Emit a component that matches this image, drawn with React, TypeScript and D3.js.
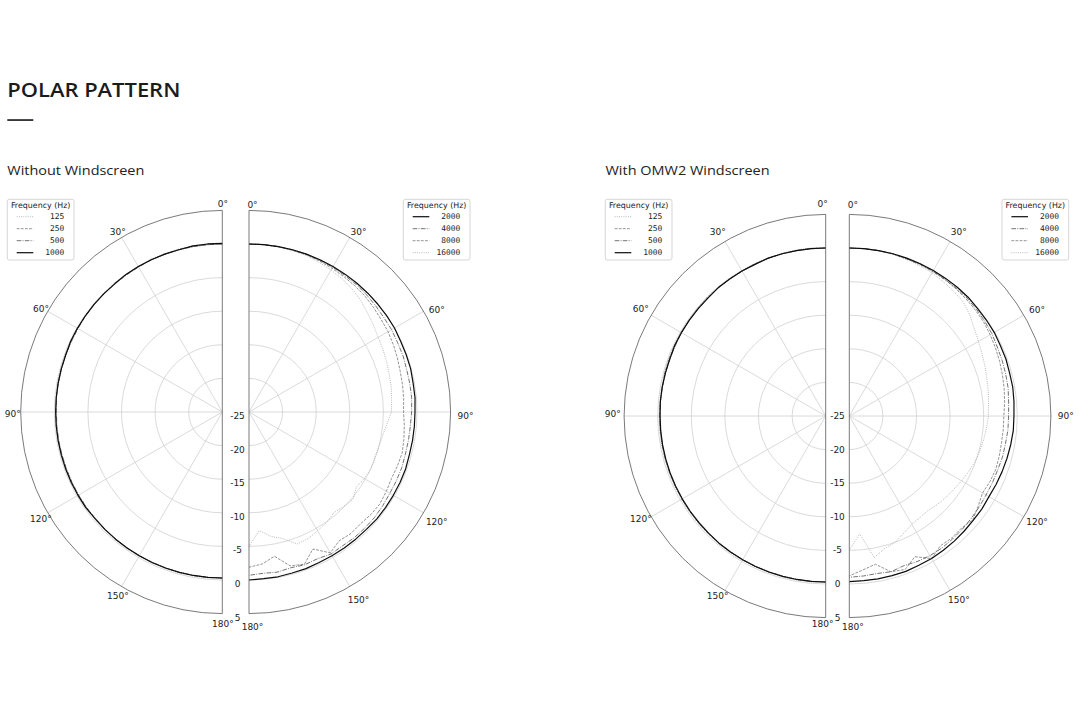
import React from "react";
import * as d3 from "d3";

// ---------- data ----------
const ANGLES = [
  0, 5, 10, 15, 20, 25, 30, 35, 40, 45,
  50, 55, 60, 65, 70, 75, 80, 85, 90, 95,
  100, 105, 110, 115, 120, 125, 130, 135, 140, 145,
  150, 155, 160, 165, 170, 175, 180,
];

const LOW_FREQS = ["125", "250", "500", "1000"];
const HIGH_FREQS = ["2000", "4000", "8000", "16000"];
const RING_DB = [-20, -15, -10, -5, 0];
const RADIAL_TICKS = [-25, -20, -15, -10, -5, 0, 5];
const SPOKES = [30, 60, 90, 120, 150];
const ANGLE_TICKS = [0, 30, 60, 90, 120, 150, 180];
const PANEL_TITLES = ["Without Windscreen", "With OMW2 Windscreen"];

// Without windscreen
const P1_125 = [
  0.1, 0.1, 0.1, 0.1, 0.1, 0.1, 0.0, 0.0, 0.0, 0.0,
  0.0, -0.1, -0.1, -0.1, -0.1, -0.1, -0.1, -0.2, -0.2, -0.2,
  -0.2, -0.2, -0.2, -0.2, -0.2, -0.2, -0.2, -0.2, -0.2, -0.2,
  -0.2, -0.2, -0.2, -0.2, -0.2, -0.2, -0.2,
];
const P1_250 = [
  0.0, 0.0, 0.0, 0.0, 0.0, 0.0, 0.0, -0.1, -0.1, -0.1,
  -0.1, -0.1, -0.1, -0.2, -0.2, -0.2, -0.2, -0.2, -0.2, -0.2,
  -0.2, -0.3, -0.3, -0.3, -0.3, -0.3, -0.3, -0.3, -0.3, -0.3,
  -0.3, -0.3, -0.3, -0.3, -0.3, -0.3, -0.3,
];
const P1_500 = [
  0.0, 0.0, 0.0, 0.0, 0.0, 0.0, -0.1, -0.1, -0.1, -0.1,
  -0.1, -0.1, -0.2, -0.2, -0.2, -0.2, -0.2, -0.2, -0.3, -0.3,
  -0.3, -0.3, -0.3, -0.3, -0.3, -0.3, -0.3, -0.3, -0.3, -0.3,
  -0.3, -0.3, -0.3, -0.3, -0.3, -0.3, -0.3,
];
const P1_1000 = [
  0.1, 0.1, 0.1, 0.0, 0.0, 0.0, 0.0, 0.0, -0.1, -0.1,
  -0.1, -0.1, -0.1, -0.1, -0.2, -0.2, -0.2, -0.2, -0.2, -0.2,
  -0.2, -0.2, -0.2, -0.2, -0.2, -0.2, -0.3, -0.3, -0.3, -0.3,
  -0.3, -0.3, -0.3, -0.3, -0.3, -0.3, -0.3,
];
const P1_2000 = [
  0.0, 0.0, 0.0, 0.0, 0.0, 0.0, 0.0, 0.0, 0.0, 0.0,
  0.0, 0.0, 0.0, -0.1, -0.1, -0.1, -0.2, -0.2, -0.3, -0.3,
  -0.3, -0.3, -0.2, -0.2, -0.2, -0.2, -0.2, -0.3, -0.3, -0.3,
  -0.3, -0.3, -0.2, -0.2, -0.1, -0.1, 0.0,
];
const P1_4000 = [
  0.0, 0.0, 0.0, 0.0, 0.0, -0.1, -0.1, -0.2, -0.2, -0.3,
  -0.4, -0.5, -0.5, -0.6, -0.6, -0.7, -0.7, -0.7, -0.8, -0.9,
  -0.9, -0.9, -0.8, -0.8, -0.8, -0.7, -0.6, -0.6, -0.6, -0.7,
  -0.6, -0.9, -0.8, -1.0, -0.8, -0.9, -0.7,
];
const P1_8000 = [
  0.0, 0.0, 0.0, -0.1, -0.1, -0.2, -0.3, -0.4, -0.5, -0.6,
  -0.8, -1.0, -1.1, -1.3, -1.5, -1.7, -1.8, -1.9, -2.0, -1.8,
  -1.6, -1.4, -1.5, -1.6, -1.4, -1.2, -1.3, -1.5, -1.4, -1.6,
  -0.8, -2.5, -0.9, -1.3, -3.2, -2.3, -1.9,
];
const P1_16000 = [
  0.0, 0.0, 0.0, -0.1, -0.2, -0.4, -0.6, -0.8, -1.1, -1.5,
  -2.0, -2.4, -2.8, -3.0, -3.2, -3.4, -3.5, -3.7, -3.8, -4.4,
  -4.8, -5.0, -5.1, -5.0, -5.2, -5.5, -4.8, -5.1, -5.4, -4.9,
  -4.6, -4.2, -4.1, -5.5, -6.2, -7.3, -5.0,
];

// With OMW2 windscreen
const P2_125 = [
  0.1, 0.1, 0.1, 0.1, 0.0, 0.0, 0.0, 0.0, 0.0, 0.0,
  -0.1, -0.1, -0.1, -0.1, -0.1, -0.2, -0.2, -0.2, -0.2, -0.2,
  -0.2, -0.2, -0.2, -0.2, -0.2, -0.2, -0.2, -0.2, -0.2, -0.2,
  -0.2, -0.2, -0.2, -0.2, -0.2, -0.2, -0.2,
];
const P2_250 = [
  0.0, 0.0, 0.0, 0.0, 0.0, 0.0, -0.1, -0.1, -0.1, -0.1,
  -0.1, -0.2, -0.2, -0.2, -0.2, -0.2, -0.3, -0.3, -0.3, -0.3,
  -0.3, -0.3, -0.3, -0.3, -0.3, -0.3, -0.3, -0.3, -0.3, -0.3,
  -0.3, -0.3, -0.3, -0.3, -0.3, -0.3, -0.3,
];
const P2_500 = [
  0.0, 0.0, 0.0, 0.0, 0.0, -0.1, -0.1, -0.1, -0.1, -0.2,
  -0.2, -0.2, -0.2, -0.3, -0.3, -0.3, -0.3, -0.3, -0.3, -0.3,
  -0.3, -0.3, -0.3, -0.3, -0.3, -0.3, -0.3, -0.3, -0.3, -0.3,
  -0.3, -0.3, -0.3, -0.3, -0.3, -0.3, -0.3,
];
const P2_1000 = [
  0.0, 0.0, 0.0, 0.0, 0.0, -0.1, -0.1, -0.1, -0.1, -0.2,
  -0.2, -0.2, -0.2, -0.2, -0.3, -0.3, -0.3, -0.3, -0.35, -0.35,
  -0.35, -0.35, -0.35, -0.35, -0.35, -0.35, -0.35, -0.35, -0.3, -0.3,
  -0.3, -0.3, -0.3, -0.3, -0.3, -0.3, -0.3,
];
const P2_2000 = [
  0.0, 0.0, 0.0, 0.0, 0.0, 0.0, 0.0, 0.0, 0.0, 0.0,
  -0.1, -0.1, -0.1, -0.2, -0.2, -0.3, -0.3, -0.4, -0.5, -0.5,
  -0.6, -0.7, -0.8, -0.9, -1.0, -0.9, -0.9, -0.8, -0.7, -0.6,
  -0.5, -0.5, -0.4, -0.4, -0.4, -0.4, -0.35,
];
const P2_4000 = [
  0.0, 0.0, 0.0, 0.0, -0.1, -0.1, -0.1, -0.2, -0.2, -0.2,
  -0.3, -0.4, -0.5, -0.7, -0.8, -0.9, -1.0, -1.2, -1.3, -1.3,
  -1.4, -1.4, -1.5, -1.5, -1.5, -1.4, -1.3, -1.2, -1.1, -1.0,
  -1.0, -1.1, -1.3, -1.0, -1.2, -1.1, -1.0,
];
const P2_8000 = [
  0.0, 0.0, 0.0, 0.0, -0.1, -0.1, -0.2, -0.2, -0.3, -0.4,
  -0.5, -0.6, -0.8, -1.0, -1.2, -1.4, -1.6, -1.8, -2.0, -2.0,
  -2.0, -1.9, -1.8, -1.9, -2.1, -1.6, -1.0, -1.4, -1.3, -1.4,
  -0.5, -1.9, -0.7, -1.0, -2.6, -2.0, -1.2,
];
const P2_16000 = [
  0.0, 0.0, 0.0, -0.1, -0.2, -0.3, -0.4, -0.6, -0.8, -1.0,
  -1.6, -2.3, -2.8, -3.2, -3.5, -3.8, -4.0, -4.2, -4.3, -4.5,
  -4.7, -4.9, -5.1, -5.4, -5.7, -6.0, -6.2, -6.4, -6.7, -6.6,
  -6.4, -5.8, -5.0, -4.6, -3.6, -7.4, -5.0,
];

// ---------- styling / layout ----------
const LINE_STYLES = [
  { stroke: "#a0a0a0", width: 0.8, dash: "0.9,1.3" }, // dotted
  { stroke: "#777777", width: 0.8, dash: "2.8,1.3" }, // dashed
  { stroke: "#4f4f4f", width: 0.8, dash: "4.6,1.3,0.9,1.3" }, // dash-dot
  { stroke: "#0d0d0d", width: 1.2, dash: "" }, // solid
];
const LOW_ORDER = [0, 1, 2, 3]; // 125 dotted, 250 dashed, 500 dashdot, 1000 solid
const HIGH_ORDER = [3, 2, 1, 0]; // 2000 solid, 4000 dashdot, 8000 dashed, 16000 dotted

const R_OUT = 201.6;
const rScale = d3.scaleLinear().domain([-25, 5]).range([0, R_OUT]);
const FONT = "'DejaVu Sans', sans-serif";
const MONO = "'DejaVu Sans Mono', monospace";
const TICK_SIZE = 9;

const PANELS = [
  {
    title: PANEL_TITLES[0],
    titleX: 7.3,
    titleLen: 137,
    leftCx: 222.3,
    rightCx: 249,
    cy: 412,
    leftLabelDx: 0.5,
    radialX: 237.5,
    legendL: 7.3,
    legendR: 403.3,
    low: [P1_125, P1_250, P1_500, P1_1000],
    high: [P1_2000, P1_4000, P1_8000, P1_16000],
  },
  {
    title: PANEL_TITLES[1],
    titleX: 605.5,
    titleLen: 164,
    leftCx: 825.7,
    rightCx: 849.3,
    cy: 416,
    leftLabelDx: -3,
    radialX: 837.5,
    legendL: 605.3,
    legendR: 1002,
    low: [P2_125, P2_250, P2_500, P2_1000],
    high: [P2_2000, P2_4000, P2_8000, P2_16000],
  },
];

const toRad = (deg: number) => (deg * Math.PI) / 180;

function HalfPolar({
  cx,
  cy,
  side,
  series,
  styleIdx,
}: {
  cx: number;
  cy: number;
  side: "left" | "right";
  series: number[][];
  styleIdx: number[];
}) {
  const sgn = side === "right" ? 1 : -1;
  const line = d3
    .lineRadial<number>()
    .angle((_, i) => sgn * toRad(ANGLES[i]))
    .radius((d) => rScale(d))
    .curve(d3.curveLinear);

  const frame = d3.arc()({
    innerRadius: 0,
    outerRadius: R_OUT,
    startAngle: 0,
    endAngle: sgn * Math.PI,
  } as any) as string;

  const rings = RING_DB.map((db) => {
    const p = d3.path();
    p.arc(0, 0, rScale(db), -Math.PI / 2, Math.PI / 2, side === "left");
    return p.toString();
  });

  const order = series
    .map((s, i) => ({ s, st: LINE_STYLES[styleIdx[i]], k: styleIdx[i] }))
    .sort((a, b) => a.k - b.k);

  return (
    <g transform={`translate(${cx},${cy})`}>
      {rings.map((d, i) => (
        <path key={"r" + i} d={d} fill="none" stroke="#d0d0d0" strokeWidth={0.8} />
      ))}
      {SPOKES.map((a) => (
        <line
          key={"s" + a}
          x1={0}
          y1={0}
          x2={sgn * R_OUT * Math.sin(toRad(a))}
          y2={-R_OUT * Math.cos(toRad(a))}
          stroke="#d0d0d0"
          strokeWidth={0.8}
        />
      ))}
      {order.map((o, i) => (
        <path
          key={"c" + i}
          d={line(o.s) as string}
          fill="none"
          stroke={o.st.stroke}
          strokeWidth={o.st.width}
          strokeDasharray={o.st.dash || undefined}
          strokeLinejoin="round"
        />
      ))}
      <path d={frame} fill="none" stroke="#585858" strokeWidth={0.8} />
    </g>
  );
}

function AngleLabels({ cx, side, leftDx }: { cx: number; side: "left" | "right"; leftDx: number }) {
  const sgn = side === "right" ? 1 : -1;
  const labelCy = side === "right" ? 416 : 414;
  return (
    <g>
      {ANGLE_TICKS.map((a) => {
        const s = Math.sin(toRad(a));
        const c = Math.cos(toRad(a));
        const d = side === "right" ? 211 + 2 * Math.abs(s) : 210;
        const dx = side === "right" ? 3.5 : leftDx;
        return (
          <text
            key={a}
            x={cx + sgn * d * s + dx}
            y={labelCy - d * c}
            textAnchor="middle"
            dominantBaseline="central"
            fontFamily={FONT}
            fontSize={TICK_SIZE}
            fill="#222"
          >
            {a + "°"}
          </text>
        );
      })}
    </g>
  );
}

function Legend({ x, labels, styleIdx }: { x: number; labels: string[]; styleIdx: number[] }) {
  return (
    <g transform={`translate(${x},199.3)`}>
      <rect
        x={0}
        y={0}
        width={66.7}
        height={60.7}
        rx={2}
        fill="#fff"
        fillOpacity={0.85}
        stroke="#cccccc"
        strokeWidth={0.8}
      />
      <text x={33.35} y={8.8} textAnchor="middle" fontFamily={FONT} fontSize={7.9} fill="#222">
        Frequency (Hz)
      </text>
      {labels.map((lab, i) => {
        const st = LINE_STYLES[styleIdx[i]];
        const yy = 17.4 + 12 * i;
        return (
          <g key={lab}>
            <line
              x1={9.4}
              x2={26}
              y1={yy}
              y2={yy}
              stroke={st.stroke}
              strokeWidth={st.width}
              strokeDasharray={st.dash || undefined}
            />
            <text x={57} y={yy + 2.8} textAnchor="end" fontFamily={MONO} fontSize={7.9} fill="#222">
              {lab}
            </text>
          </g>
        );
      })}
    </g>
  );
}

export default function App() {
  return (
    <svg
      width={1080}
      height={720}
      viewBox="0 0 1080 720"
      style={{ position: "absolute", left: 0, top: 0, background: "#fff" }}
    >
      <rect x={0} y={0} width={1080} height={720} fill="#fff" />
      <text
        x={7.3}
        y={97}
        fontFamily="'Open Sans', Lato, sans-serif"
        fontWeight={600}
        fontSize={20}
        fill="#1b1b1b"
        textLength={173}
        lengthAdjust="spacingAndGlyphs"
      >
        POLAR PATTERN
      </text>
      <rect x={7.3} y={119.2} width={26} height={1.7} fill="#222" />

      {PANELS.map((p, pi) => (
        <g key={pi}>
          <text
            x={p.titleX}
            y={175.3}
            fontFamily="'Open Sans', Lato, sans-serif"
            fontSize={13}
            fill="#222"
            textLength={p.titleLen}
            lengthAdjust="spacingAndGlyphs"
          >
            {p.title}
          </text>
          <HalfPolar cx={p.leftCx} cy={p.cy} side="left" series={p.low} styleIdx={LOW_ORDER} />
          <HalfPolar cx={p.rightCx} cy={p.cy} side="right" series={p.high} styleIdx={HIGH_ORDER} />
          <AngleLabels cx={p.leftCx} side="left" leftDx={p.leftLabelDx} />
          <AngleLabels cx={p.rightCx} side="right" leftDx={p.leftLabelDx} />
          {RADIAL_TICKS.map((v) => (
            <text
              key={v}
              x={p.radialX}
              y={416 + rScale(v)}
              textAnchor="middle"
              dominantBaseline="central"
              fontFamily={FONT}
              fontSize={TICK_SIZE}
              fill="#222"
            >
              {String(v)}
            </text>
          ))}
          <Legend x={p.legendL} labels={LOW_FREQS} styleIdx={LOW_ORDER} />
          <Legend x={p.legendR} labels={HIGH_FREQS} styleIdx={HIGH_ORDER} />
        </g>
      ))}
    </svg>
  );
}
